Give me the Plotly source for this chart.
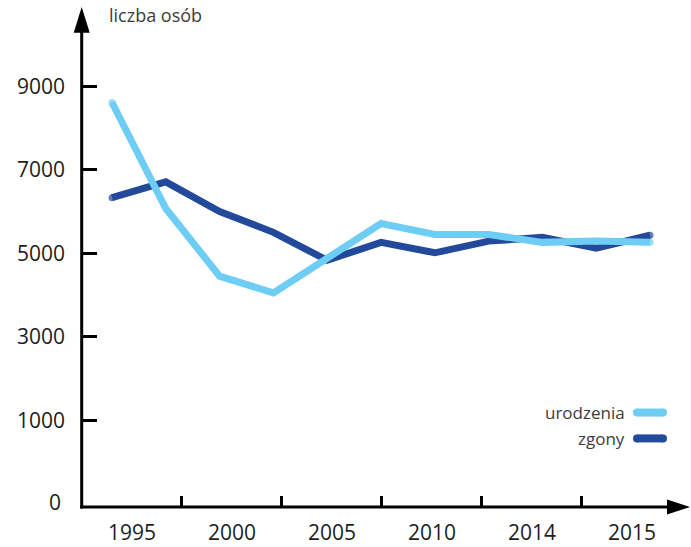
import plotly.graph_objects as go

# dane (11 punktów pomiarowych)
okresy = list(range(11))
urodzenia = [8610, 6070, 4450, 4050, 4880, 5710, 5450, 5450, 5260, 5290, 5260]
zgony = [6330, 6710, 6000, 5500, 4830, 5260, 5010, 5290, 5380, 5120, 5430]
lata = ["1995", "2000", "2005", "2010", "2014", "2015"]
y_ticks = [1000, 3000, 5000, 7000, 9000]

W, H = 691, 547
L, R, T, B = 82, 1, 7, 37
PW, PH = W - L - R, H - T - B

def px(x):
    return (x - L) / PW

def py(y):
    return 1 - (y - T) / PH

jasny = "#6DCDF5"
ciemny = "#234A9A"

fig = go.Figure()
for nazwa, vals, kolor in [("zgony", zgony, ciemny), ("urodzenia", urodzenia, jasny)]:
    sizes = [7] + [0] * (len(vals) - 2) + [7]
    fig.add_trace(go.Scatter(
        x=okresy, y=vals, name=nazwa, mode="lines+markers",
        line=dict(color=kolor, width=7),
        marker=dict(size=sizes, color=kolor, line=dict(width=0)),
        showlegend=False,
    ))

# pozycje etykiet lat i kresek na osi x (w jednostkach osi)
step = 100 / 53.8
label_pos = [0.37 + step * i for i in range(len(lata))]
tick_pos = [1.30 + step * i for i in range(5)]

fig.update_layout(
    width=W, height=H,
    margin=dict(l=L, r=R, t=T, b=B),
    paper_bgcolor="white", plot_bgcolor="white",
    font=dict(family="Open Sans", size=21, color="#1d1d1b"),
    xaxis=dict(
        range=[-0.5576, 10.743], showgrid=False, zeroline=False, showline=False,
        tickmode="array", tickvals=label_pos, ticktext=lata, ticks="",
        ticklabelstandoff=11,
        minor=dict(tickmode="array", tickvals=tick_pos, ticks="inside",
                   ticklen=11, tickwidth=2.5, tickcolor="black", showgrid=False),
    ),
    yaxis=dict(
        range=[-1079, 10898], showgrid=False, zeroline=False, showline=False,
        tickmode="array", tickvals=y_ticks, ticktext=[str(v) for v in y_ticks],
        ticks="inside", ticklen=15, tickwidth=2.5, tickcolor="black",
        ticklabelstandoff=16,
    ),
)

shapes = [
    # oś y
    dict(type="line", xref="paper", yref="paper", x0=px(81.7), x1=px(81.7),
         y0=py(511.5), y1=py(28), line=dict(color="black", width=3)),
    dict(type="path", xref="paper", yref="paper",
         path=f"M {px(81.7)} {py(7)} L {px(73.7)} {py(33)} L {px(89.7)} {py(33)} Z",
         fillcolor="black", line=dict(width=0)),
    # oś x
    dict(type="line", xref="paper", yref="paper", x0=px(80.2), x1=px(672),
         y0=py(510), y1=py(510), line=dict(color="black", width=3)),
    dict(type="path", xref="paper", yref="paper",
         path=f"M {px(690)} {py(510)} L {px(667)} {py(502.5)} L {px(667)} {py(517.5)} Z",
         fillcolor="black", line=dict(width=0)),
]

# legenda: tekst po lewej, próbka linii po prawej
for nazwa, kolor, yy in [("urodzenia", jasny, 415), ("zgony", ciemny, 441)]:
    shapes.append(dict(type="line", xref="paper", yref="paper",
                       x0=px(637), x1=px(663), y0=py(yy), y1=py(yy),
                       line=dict(color=kolor, width=8)))
    for cx in (637, 663):
        shapes.append(dict(type="circle", xref="paper", yref="paper",
                           x0=px(cx - 4), x1=px(cx + 4), y0=py(yy + 4), y1=py(yy - 4),
                           fillcolor=kolor, line=dict(width=0)))
    fig.add_annotation(text=nazwa, xref="paper", yref="paper", x=px(627), y=py(yy),
                       xanchor="right", yanchor="middle", showarrow=False,
                       font=dict(size=17, color="#3c3c3b"))

fig.update_layout(shapes=shapes)

fig.add_annotation(text="liczba osób", xref="paper", yref="paper", x=px(107), y=py(15),
                   xanchor="left", yanchor="middle", showarrow=False,
                   font=dict(size=18, color="#3c3c3b"))
fig.add_annotation(text="0", xref="paper", yref="paper", x=px(63), y=py(505),
                   xanchor="right", yanchor="middle", showarrow=False,
                   font=dict(size=21, color="#1d1d1b"))

# bez domyślnego marginesu strony, żeby wykres zajął całe okno
fig.write_html("out.html", config={"displayModeBar": False},
               post_script="document.body.style.margin='0';")
